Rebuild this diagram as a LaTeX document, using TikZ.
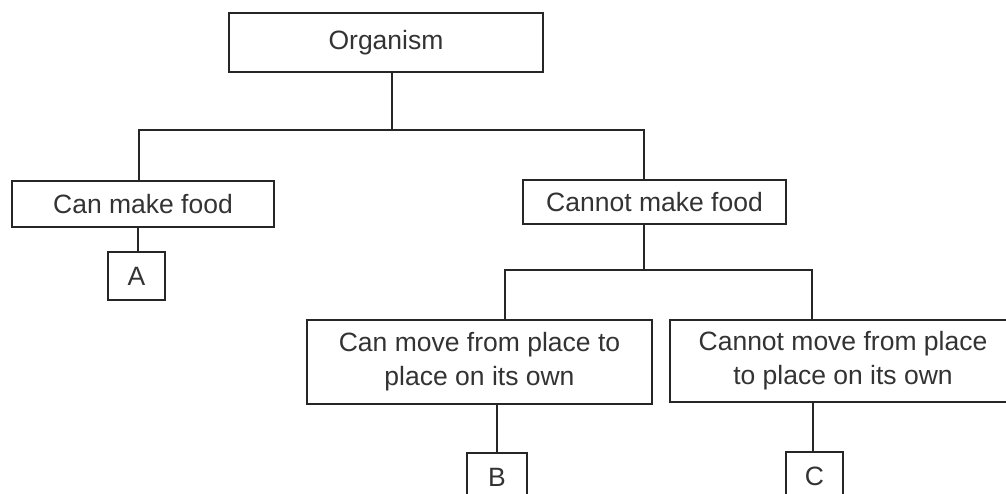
\documentclass[tikz,border=0pt]{standalone}
\usepackage{fontspec}
\setmainfont{Liberation Sans}
\begin{document}
\begin{tikzpicture}[x=1pt,y=-1pt,
  box/.style={draw=black!85, line width=1.8pt, inner sep=0pt, align=center,
    text=black!80, font=\fontsize{26.5}{34}\selectfont},
  conn/.style={draw=black!85, line width=1.6pt}]
\useasboundingbox (0,0) rectangle (1006,493);
\clip (0,0) rectangle (1006,493);
\node[box, minimum width=314pt, minimum height=59pt] (org) at (386,42.5) {Organism};
\node[box, minimum width=262pt, minimum height=46pt] (canfood) at (143,204) {Can make food};
\node[box, minimum width=263pt, minimum height=44pt] (cannot) at (654.5,202) {Cannot make food};
\node[box, minimum width=57pt, minimum height=48pt] (A) at (136.5,276) {A};
\node[box, minimum width=345pt, minimum height=84pt] (move) at (479.5,362) {Can move from place to\\place on its own};
\node[box, minimum width=346pt, minimum height=82pt] (notmove) at (843,361) {Cannot move from place\\to place on its own};
\node[box, minimum width=60pt, minimum height=48pt] (B) at (497,477) {B};
\node[box, minimum width=57pt, minimum height=48pt] (C) at (814.5,476) {C};
\coordinate (j1) at (392,130);
\coordinate (l1) at (139,130);
\coordinate (r1) at (644,130);
\coordinate (xa) at (138,0);
\coordinate (j2) at (644,270);
\coordinate (l2) at (505,270);
\coordinate (r2) at (812,270);
\coordinate (xb) at (497,0);
\coordinate (xc) at (813,0);
\draw[conn] (org.south -| j1) -- (j1);
\draw[conn] (canfood.north -| l1) -- (l1) -- (r1) -- (cannot.north -| r1);
\draw[conn] (canfood.south -| xa) -- (A.north -| xa);
\draw[conn] (cannot.south -| j2) -- (j2);
\draw[conn] (move.north -| l2) -- (l2) -- (r2) -- (notmove.north -| r2);
\draw[conn] (move.south -| xb) -- (B.north -| xb);
\draw[conn] (notmove.south -| xc) -- (C.north -| xc);
\end{tikzpicture}
\end{document}
